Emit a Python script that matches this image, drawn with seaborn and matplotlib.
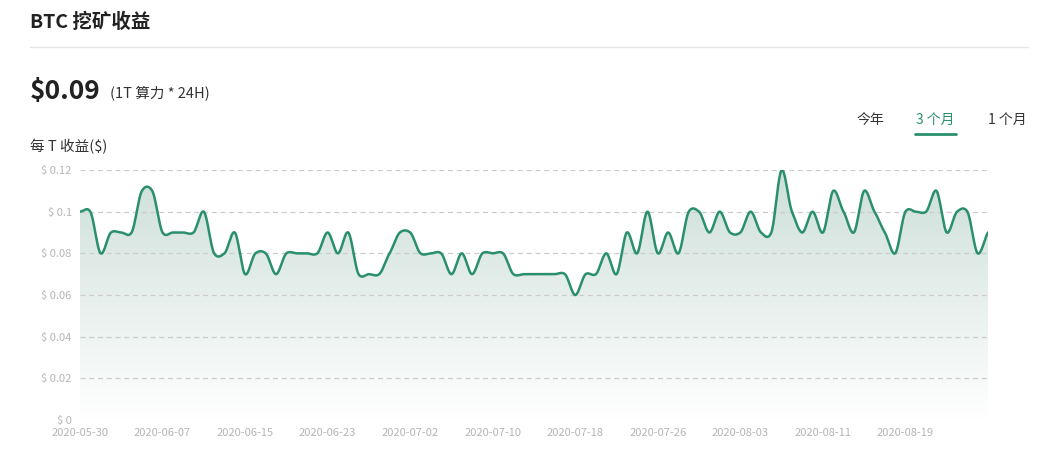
import numpy as np
import pandas as pd
import matplotlib
matplotlib.use("Agg")
import matplotlib.pyplot as plt
import seaborn as sns
from matplotlib.colors import LinearSegmentedColormap

sns.set_theme(style="white")
plt.rcParams['font.family'] = ['Noto Sans CJK SC', 'DejaVu Sans']

values = [0.10,0.10,0.08,0.09,0.09,0.09,0.11,0.11,0.09,0.09,
          0.09,0.09,0.10,0.08,0.08,0.09,0.07,0.08,0.08,0.07,
          0.08,0.08,0.08,0.08,0.09,0.08,0.09,0.07,0.07,0.07,
          0.08,0.09,0.09,0.08,0.08,0.08,0.07,0.08,0.07,0.08,
          0.08,0.08,0.07,0.07,0.07,0.07,0.07,0.07,0.06,0.07,
          0.07,0.08,0.07,0.09,0.08,0.10,0.08,0.09,0.08,0.10,
          0.10,0.09,0.10,0.09,0.09,0.10,0.09,0.09,0.12,0.10,
          0.09,0.10,0.09,0.11,0.10,0.09,0.11,0.10,0.09,0.08,
          0.10,0.10,0.10,0.11,0.09,0.10,0.10,0.08,0.09]
tick_labels = ["2020-05-30","2020-06-07","2020-06-15","2020-06-23","2020-07-02",
               "2020-07-10","2020-07-18","2020-07-26","2020-08-03","2020-08-11","2020-08-19"]
tick_step = 8
y_ticks = [0, 0.02, 0.04, 0.06, 0.08, 0.10, 0.12]
y_labels = ["$ 0", "$ 0.02", "$ 0.04", "$ 0.06", "$ 0.08", "$ 0.1", "$ 0.12"]

x = np.arange(len(values), dtype=float)
y = np.array(values)

# cubic Hermite smoothing for display
m = np.gradient(y, x) * 0.8
xs, ys = [], []
for i in range(len(x) - 1):
    t = np.linspace(0, 1, 20, endpoint=False)
    h00 = 2*t**3 - 3*t**2 + 1; h10 = t**3 - 2*t**2 + t
    h01 = -2*t**3 + 3*t**2; h11 = t**3 - t**2
    xs.append(x[i] + t)
    ys.append(h00*y[i] + h10*m[i] + h01*y[i+1] + h11*m[i+1])
xs.append([x[-1]]); ys.append([y[-1]])
xs = np.concatenate(xs); ys = np.concatenate(ys)
dense = pd.DataFrame({"x": xs, "y": ys})

fig = plt.figure(figsize=(10.44, 4.73), dpi=100)
ax = fig.add_axes([80/1044, 1-420/473, 908/1044, 250/473])

green = "#2a8f6e"
cmap = LinearSegmentedColormap.from_list("g", ["#ffffff", "#cddfd9"])
grad = np.linspace(0, 1, 256).reshape(-1, 1)
im = ax.imshow(grad, cmap=cmap, aspect="auto", origin="lower",
               extent=[0, x[-1], 0, 0.12], zorder=1)
poly = ax.fill_between(xs, 0, ys, color="none")
im.set_clip_path(poly.get_paths()[0], transform=ax.transData)

sns.lineplot(data=dense, x="x", y="y", ax=ax, color=green, linewidth=1.8, zorder=3)

for v in y_ticks[1:]:
    ax.axhline(v, color="#cccccc", lw=0.9, ls=(0, (4, 3)), zorder=2)

ax.set_xlim(0, x[-1])
ax.set_ylim(0, 0.12)
ax.set_yticks(y_ticks)
ax.set_yticklabels(y_labels, color="#b5b5b5", fontsize=8)
ax.set_xticks([i * tick_step for i in range(len(tick_labels))])
ax.set_xticklabels(tick_labels, color="#b5b5b5", fontsize=8)
ax.tick_params(length=0, pad=6)
ax.set_xlabel(""); ax.set_ylabel("")
for s in ax.spines.values():
    s.set_visible(False)

fig.text(30/1044, 1-22/473, "BTC 挖矿收益", fontsize=14, color="#222222", va="center", fontweight="bold")
fig.add_artist(plt.Line2D([30/1044, 1028/1044], [1-47/473]*2, color="#e6e6e6", lw=1))
fig.text(30/1044, 1-91/473, "$0.09", fontsize=19, fontweight="bold", color="#222222", va="center")
fig.text(110/1044, 1-93/473, "(1T 算力 * 24H)", fontsize=10.5, color="#333333", va="center")
fig.text(30/1044, 1-147/473, "每 T 收益($)", fontsize=10.5, color="#333333", va="center")
fig.text(870/1044, 1-120/473, "今年", fontsize=10, color="#333333", va="center", ha="center")
fig.text(935/1044, 1-120/473, "3 个月", fontsize=10, color=green, va="center", ha="center")
fig.text(1007/1044, 1-120/473, "1 个月", fontsize=10, color="#333333", va="center", ha="center")
fig.add_artist(plt.Line2D([915/1044, 956/1044], [1-134/473]*2, color=green, lw=2))

fig.savefig("out.png", dpi=100, facecolor="white")
